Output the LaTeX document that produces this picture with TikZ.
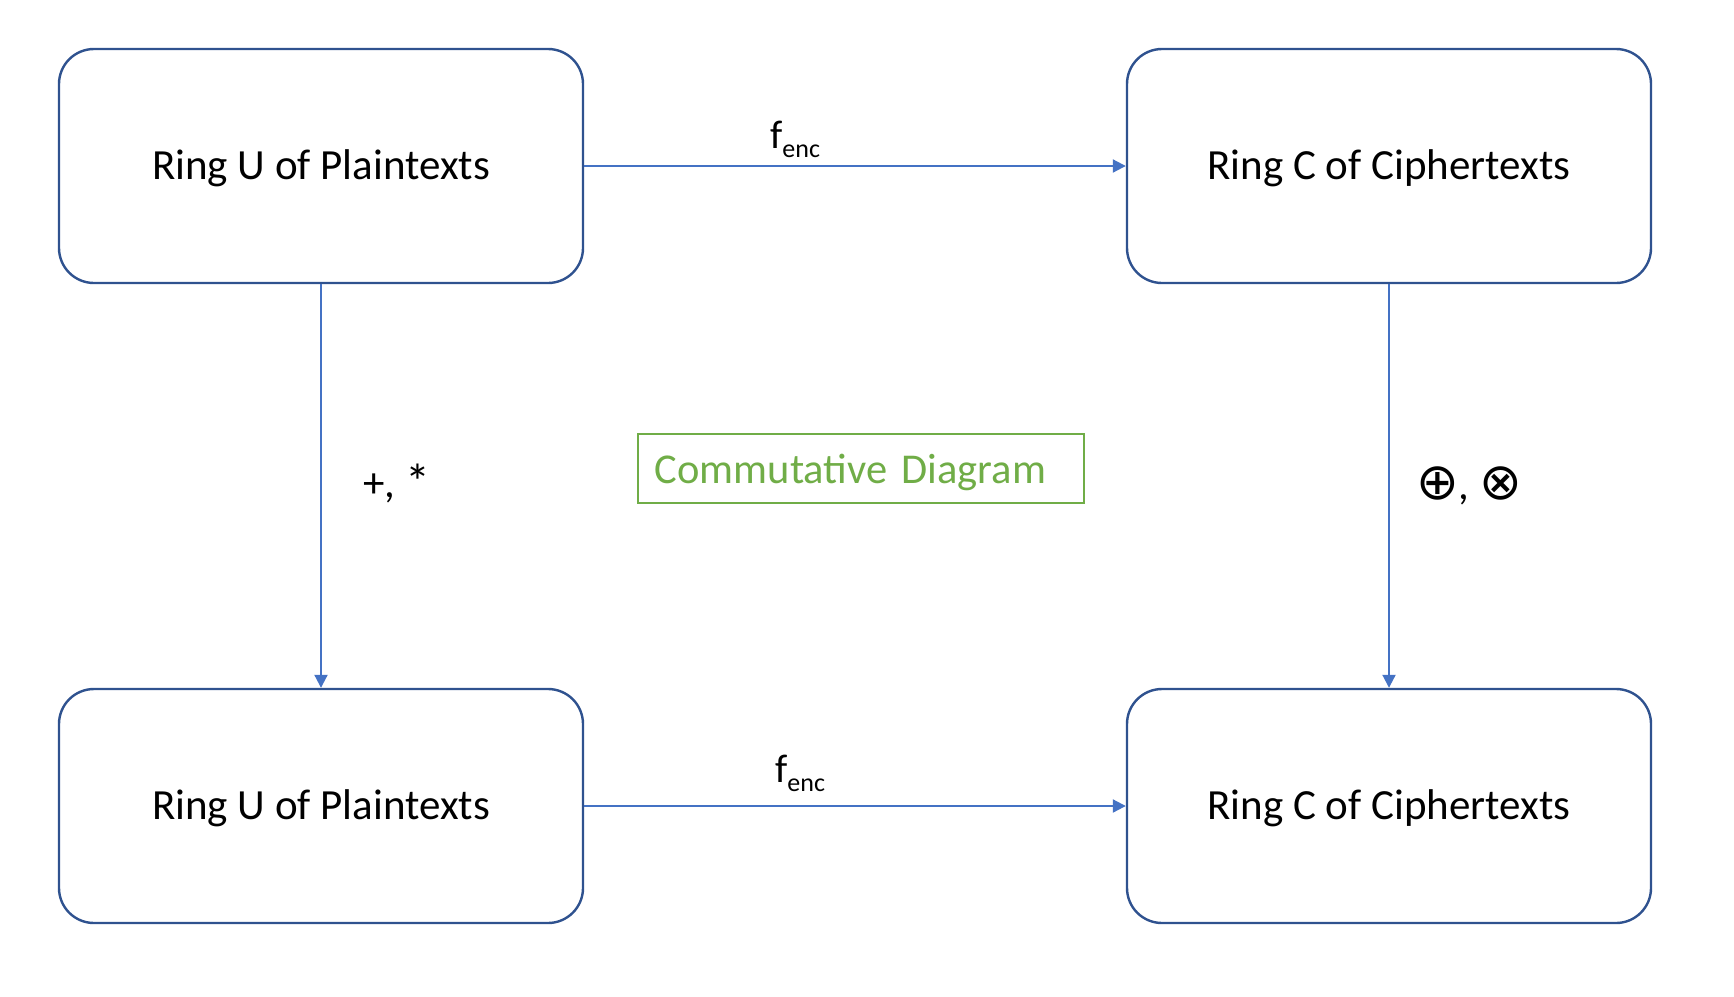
\documentclass[tikz,border=0pt]{standalone}
\usepackage{fontspec}
\setmainfont{Carlito}
\newfontfamily\symfam{DejaVu Sans}
\usetikzlibrary{arrows.meta}
\definecolor{boxblue}{RGB}{47,82,143}
\definecolor{linkblue}{RGB}{68,114,196}
\definecolor{labgreen}{RGB}{112,173,71}
\begin{document}
\begin{tikzpicture}[x=1pt,y=-1pt,
  ring/.style={draw=boxblue, line width=2.4pt, rectangle, rounded corners=35pt,
    minimum width=524pt, minimum height=234pt, inner sep=0pt,
    font=\fontsize{43}{50}\selectfont, text height=27.5pt, text depth=0pt},
  link/.style={draw=linkblue, line width=2pt, -{Triangle[length=13pt,width=13pt]}},
  lab/.style={inner sep=0pt, font=\fontsize{40}{48}\selectfont},
  oplab/.style={inner sep=0pt, font=\fontsize{43}{50}\selectfont}
]
\useasboundingbox (0,0) rectangle (1734,996);
\node[ring] (u1) at (321,166) {Ring U of Plaintexts};
\node[ring] (c1) at (1389,166) {Ring C of Ciphertexts};
\node[ring] (u2) at (321,806) {Ring U of Plaintexts};
\node[ring] (c2) at (1389,806) {Ring C of Ciphertexts};
\draw[link] (u1.east) -- (c1.west);
\draw[link] (u2.east) -- (c2.west);
\draw[link] (u1.south) -- (u2.north);
\draw[link] (c1.south) -- (c2.north);
\node[lab, anchor=base west] (ftop) at (770,148) {f\raisebox{-9pt}{\fontsize{26}{30}\selectfont enc}};
\node[lab, anchor=base west] (fbot) at (775,782) {f\raisebox{-9pt}{\fontsize{26}{30}\selectfont enc}};
\node[oplab, anchor=base west] (plus) at (363,497) {+, \raisebox{-2pt}{\fontsize{50}{50}\selectfont *}};
\node[oplab, anchor=base west] (oplus) at (1416,499) {{\symfam\fontsize{51}{56}\selectfont ⊕}, {\symfam\fontsize{51}{56}\selectfont ⊗}};
\node[draw=labgreen, line width=1.5pt, anchor=north west, inner xsep=17pt, inner ysep=0pt,
  text width=412pt, align=left, minimum height=69pt, text height=30pt, text depth=0pt,
  text=labgreen, font=\fontsize{42.5}{52}\selectfont] (cd) at (637,433) {Commutative Diagram};
\end{tikzpicture}
\end{document}
